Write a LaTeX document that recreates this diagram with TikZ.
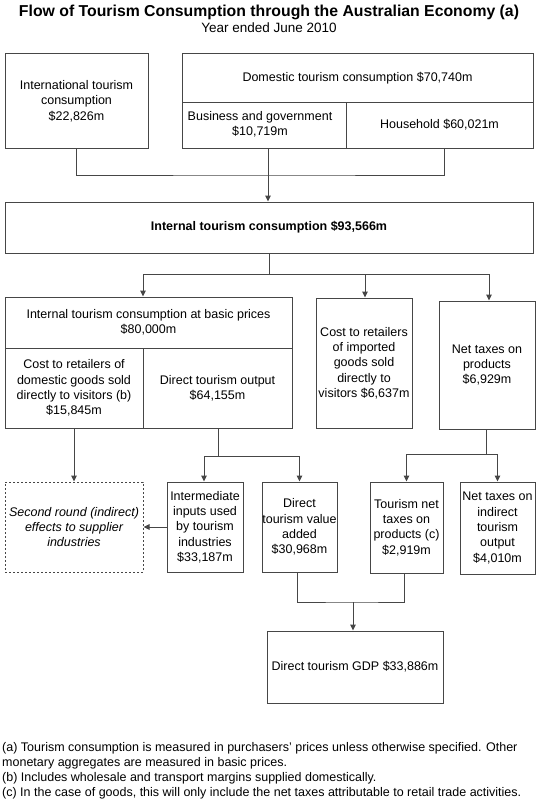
\documentclass[tikz,border=0pt]{standalone}
\usepackage{fontspec}
\setmainfont{Liberation Sans}
\usetikzlibrary{arrows.meta}
\definecolor{ln}{RGB}{70,70,70}
\begin{document}
\begin{tikzpicture}[x=1pt,y=-1pt,
  box/.style={draw=ln, line width=1pt, rectangle, inner sep=0pt, align=center,
    font=\fontsize{12.5}{15.3}\selectfont},
  dbox/.style={box, dash pattern=on 2pt off 2pt},
  line/.style={draw=ln, line width=1pt},
  arr/.style={line, -{Triangle[length=6pt,width=5.5pt]}},
  note/.style={anchor=base west, inner sep=0pt, font=\fontsize{12.5}{15}\selectfont},
]
\useasboundingbox (0,0) rectangle (537,800);

% titles
\node[anchor=base, inner sep=0pt, font=\fontsize{15.8}{18}\selectfont\bfseries] (title) at (269,17)
  {Flow of Tourism Consumption through the Australian Economy (a)};
\node[anchor=base, inner sep=0pt, font=\fontsize{13.5}{16}\selectfont] (sub) at (269,32.5)
  {Year ended June 2010};

% top row
\node[box, minimum width=143pt, minimum height=94pt] (intl) at (76.5,101)
  {International tourism\\consumption\\\$22,826m};
\node[box, minimum width=351pt, minimum height=48pt] (dom) at (357.5,78)
  {Domestic tourism consumption \$70,740m};
\node[box, minimum width=164pt, minimum height=46pt] (bus) at (264,125)
  {\raisebox{-3pt}{\begin{tabular}{@{}c@{}}Business and government\\\$10,719m\end{tabular}}\hspace*{8pt}};
\node[box, minimum width=187pt, minimum height=46pt] (hh) at (439.5,125)
  {Household \$60,021m};

% internal
\node[box, minimum width=528pt, minimum height=51pt] (int) at (269,227.5)
  {\bfseries Internal tourism consumption \$93,566m};

% second row
\node[box, minimum width=287pt, minimum height=51pt] (basic) at (148.5,322.5)
  {Internal tourism consumption at basic prices\\\$80,000m};
\node[box, minimum width=138pt, minimum height=80pt] (retdom) at (74,388)
  {Cost to retailers of\\domestic goods sold\\directly to visitors (b)\\\$15,845m\hspace*{0pt}};
\node[box, minimum width=149pt, minimum height=80pt] (dto) at (217.5,388)
  {Direct tourism output\\\$64,155m};
\node[box, minimum width=96pt, minimum height=130pt] (imp) at (364,363)
  {Cost to retailers\\of imported\\goods sold\\directly to\\visitors \$6,637m};
\node[box, minimum width=96pt, minimum height=128pt] (ntp) at (487,365)
  {Net taxes on\\products\\\$6,929m};

% third row
\node[dbox, minimum width=138pt, minimum height=90pt, font=\fontsize{12.5}{15.3}\selectfont\itshape] (second) at (74,527)
  {Second round (indirect)\\effects to supplier\\industries};
\node[box, minimum width=76pt, minimum height=90pt] (inter) at (205,527)
  {Intermediate\\inputs used\\by tourism\\industries\\\$33,187m};
\node[box, minimum width=75pt, minimum height=90pt] (dva) at (299.5,527)
  {Direct\\tourism value\\added\\\$30,968m};
\node[box, minimum width=73pt, minimum height=91pt] (tnt) at (406.5,527.5)
  {Tourism net\\taxes on\\products (c)\\\$2,919m};
\node[box, minimum width=75pt, minimum height=92pt] (ntind) at (497.5,528)
  {Net taxes on\\indirect\\tourism\\output\\\$4,010m};

% GDP
\node[box, minimum width=176pt, minimum height=72pt] (gdp) at (355,667)
  {Direct tourism GDP \$33,886m};

% junction coordinates
\coordinate (j1) at (268,175);
\coordinate (j2) at (269,274);
\coordinate (j3) at (218,456);
\coordinate (j4) at (486,454);
\coordinate (j5) at (353,602);

% connectors
\draw[line] (intl.south) |- (j1) -| ([xshift=5pt]hh.south);
\draw[arr] ([xshift=4pt]bus.south) -- ([xshift=4pt]bus.south |- int.north);

\draw[line] (int.south) -- (j2);
\draw[arr] (j2) -| ([xshift=-5.5pt]basic.north);
\draw[arr] (j2) -| ([xshift=1pt]imp.north);
\draw[arr] (j2) -| ([xshift=2pt]ntp.north);

\draw[arr] (retdom.south) -- (second.north);
\draw[line] (j3 |- dto.south) -- (j3);
\draw[arr] (j3) -| ([xshift=-1pt]inter.north);
\draw[arr] (j3) -| (dva.north);
\draw[arr] (inter.west) -- (second.east);

\draw[line] (j4 |- ntp.south) -- (j4);
\draw[arr] (j4) -| (tnt.north);
\draw[arr] (j4) -| (ntind.north);

\draw[line] ([xshift=-2.5pt]dva.south) |- (j5) -| ([xshift=-2.5pt]tnt.south);
\draw[arr] (j5) -- (j5 |- gdp.north);

% footnotes
\node[note] (fa1) at (2,751) {(a) Tourism consumption is measured in purchasers' prices unless otherwise specified. Other};
\node[note] (fa2) at (2,766) {monetary aggregates are measured in basic prices.};
\node[note] (fb) at (2,781) {(b) Includes wholesale and transport margins supplied domestically.};
\node[note] (fc) at (2,796) {(c) In the case of goods, this will only include the net taxes attributable to retail trade activities.};
\end{tikzpicture}
\end{document}
